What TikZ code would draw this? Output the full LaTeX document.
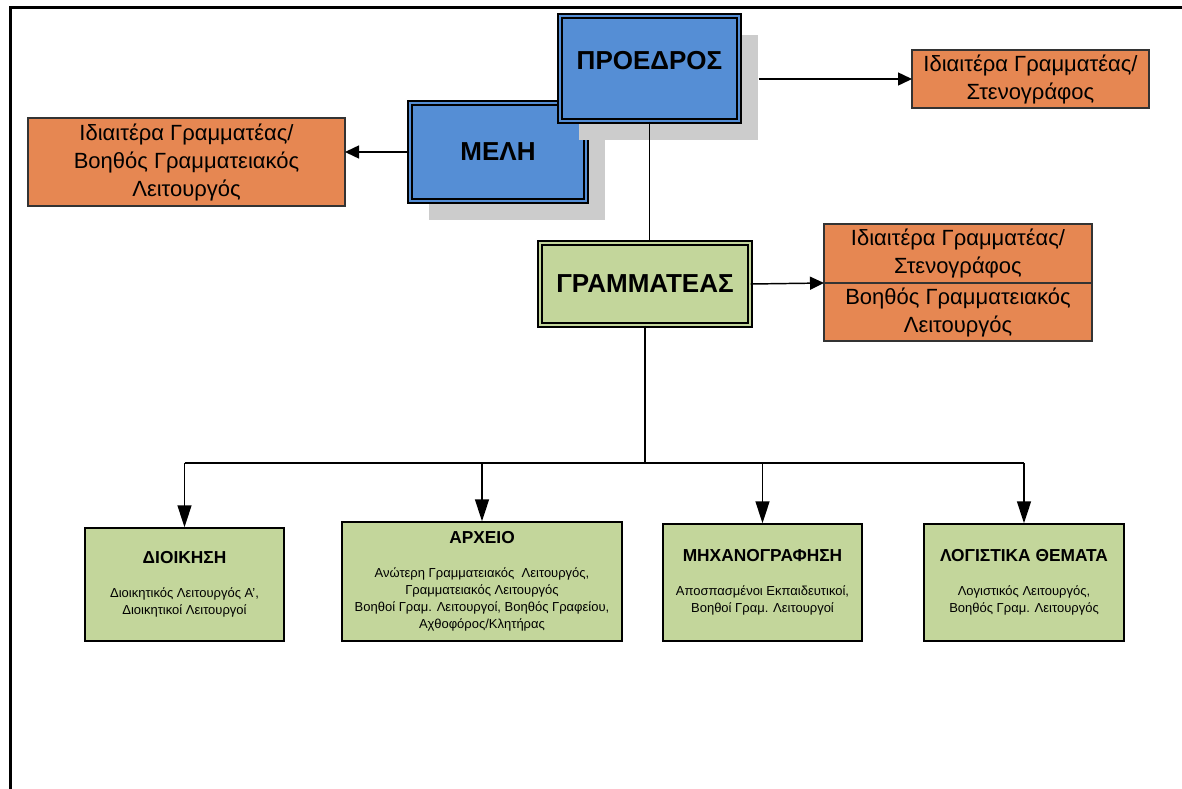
\documentclass[tikz,border=0pt]{standalone}
\usepackage{fontspec}
\setmainfont{Liberation Sans}
\usetikzlibrary{positioning,shadows,arrows.meta}
\definecolor{headblue}{RGB}{85,142,213}
\definecolor{deptgreen}{RGB}{195,214,155}
\definecolor{staffOrange}{RGB}{230,135,82}
\definecolor{shadowgray}{RGB}{204,204,204}
\tikzset{every picture/.style={line width=0.75pt}}
\tikzset{
  headbox/.style={draw=black, line width=1.1pt, double=headblue, double distance=1.6pt,
    fill=headblue, inner sep=0pt, align=center,
    font=\fontsize{19.5}{23}\selectfont\bfseries,
    drop shadow={shadow xshift=14.25pt, shadow yshift=-14.25pt, fill=shadowgray, opacity=1}},
  secbox/.style={draw=black, line width=1.1pt, double=deptgreen, double distance=1.6pt,
    fill=deptgreen, inner sep=0pt, align=center, font=\fontsize{19.5}{23}\selectfont\bfseries},
  staffbox/.style={draw=black!80, line width=0.8pt, fill=staffOrange, inner sep=0pt,
    outer sep=0pt, align=center, font=\fontsize{16.5}{21}\selectfont},
  deptbox/.style={draw=black, line width=1.1pt, fill=deptgreen, inner sep=0pt,
    align=center, font=\fontsize{9.75}{12.75}\selectfont},
  link/.style={draw=black, line width=1.1pt},
  sidearrow/.style={link, -{Triangle[length=10.5pt, width=9.75pt]}},
  downarrow/.style={link, -{Triangle[length=16.5pt, width=10.5pt]}},
  frame/.style={draw=black, line width=2.25pt}
}
\newcommand{\depthead}[1]{{\fontsize{13}{15}\selectfont\bfseries #1}\\[13pt]}

\begin{document}
\begin{tikzpicture}[x=0.75pt,y=0.75pt,yscale=-1,xscale=1]
\useasboundingbox (0,0) rectangle (1182,789);

%Page frame
\draw[frame] (1182,7.5) -- (10,7.5) -- (10,789);

%Head boxes
\node[headbox, minimum width=132pt, minimum height=73.5pt] (meli) at (498,152) {ΜΕΛΗ};
\node[headbox, minimum width=134.25pt, minimum height=78.75pt, text height=14pt, text depth=13pt] (pres) at (649.5,68.5) {ΠΡΟΕΔΡΟΣ};
\coordinate (presshadow) at ([xshift=14.25pt]pres.east);

%Secretary
\node[secbox, minimum width=157.5pt, minimum height=61.5pt] (sec) at (645,284) {ΓΡΑΜΜΑΤΕΑΣ};

%Staff boxes
\node[staffbox, minimum width=237.75pt, minimum height=66pt] (membstaff) at (186.5,162) {Ιδιαιτέρα Γραμματέας/\\Βοηθός Γραμματειακός\\Λειτουργός};
\node[staffbox, minimum width=177.75pt, minimum height=43.5pt] (presstaff) at (1030.5,79) {Ιδιαιτέρα Γραμματέας/\\Στενογράφος};
\node[staffbox, minimum width=201pt, minimum height=44.25pt] (secstaffa) at (958,253.5) {Ιδιαιτέρα Γραμματέας/\\Στενογράφος};
\node[staffbox, minimum width=201pt, minimum height=43.5pt, below=0pt of secstaffa] (secstaffb) {Βοηθός Γραμματειακός\\Λειτουργός};

%Departments
\node[deptbox, minimum width=149.25pt, minimum height=84.75pt] (dioik) at (184.5,584.5) {\depthead{ΔΙΟΙΚΗΣΗ}Διοικητικός Λειτουργός Α',\\Διοικητικοί Λειτουργοί};
\node[deptbox, minimum width=210pt, minimum height=89.25pt] (arxeio) at (482,581.5) {\depthead{ΑΡΧΕΙΟ}Ανώτερη Γραμματειακός~ Λειτουργός,\\Γραμματειακός Λειτουργός\\Βοηθοί Γραμ. Λειτουργοί, Βοηθός Γραφείου,\\Αχθοφόρος/Κλητήρας};
\node[deptbox, minimum width=149.25pt, minimum height=87.75pt] (mixan) at (762.5,582.5) {\depthead{ΜΗΧΑΝΟΓΡΑΦΗΣΗ}Αποσπασμένοι Εκπαιδευτικοί,\\Βοηθοί Γραμ. Λειτουργοί};
\node[deptbox, minimum width=150pt, minimum height=87.75pt] (logist) at (1024,582.5) {\depthead{ΛΟΓΙΣΤΙΚΑ ΘΕΜΑΤΑ}Λογιστικός Λειτουργός,\\Βοηθός Γραμ. Λειτουργός};

%Connectors
\draw[link] (pres.south) -- (pres.south |- sec.north);
\draw[sidearrow] (presshadow |- presstaff.west) -- (presstaff.west);
\draw[sidearrow] (meli.west) -- (meli.west -| membstaff.east);
\draw[sidearrow] (sec.east) -- (secstaffa.south west);
\coordinate (bus) at (645,463);
\draw[link] (sec.south) -- (sec.south |- bus);
\draw[link] (dioik.north |- bus) -- (logist.north |- bus);
\foreach \dept in {dioik,arxeio,mixan,logist}
  \draw[downarrow] (\dept.north |- bus) -- (\dept.north);

\end{tikzpicture}
\end{document}
